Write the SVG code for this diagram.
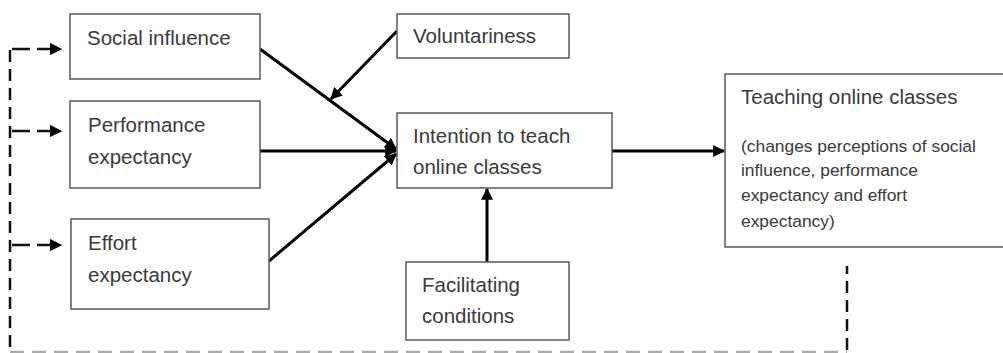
<svg xmlns="http://www.w3.org/2000/svg" width="1003" height="353" viewBox="0 0 1003 353">
<defs>
<marker id="ah" viewBox="0 0 10 10" refX="9" refY="5" markerWidth="4" markerHeight="4" orient="auto" markerUnits="strokeWidth">
<path d="M0,0 L10,5 L0,10 z" fill="#000"/>
</marker>
<marker id="ahd" viewBox="0 0 10 10" refX="9" refY="5" markerWidth="5" markerHeight="5" orient="auto" markerUnits="strokeWidth">
<path d="M0,0 L10,5 L0,10 z" fill="#000"/>
</marker>
<style>
.box{fill:#fff;stroke:#595959;stroke-width:1.5}
.t{font-family:"Liberation Sans",Arial,sans-serif;font-size:20.5px;fill:#3a3a3a}
.s{font-family:"Liberation Sans",Arial,sans-serif;font-size:17.4px;fill:#3a3a3a}
.c{stroke:#000;stroke-width:3;fill:none}
.d{stroke:#111;stroke-width:2.5;fill:none;stroke-dasharray:12 7}
.dh{stroke:#111;stroke-width:2.5;fill:none;stroke-dasharray:18 7}
</style>
</defs>
<g id="connectors">
<line class="c" x1="260" y1="49" x2="396" y2="149" marker-end="url(#ah)"/>
<line class="c" x1="260" y1="151" x2="396" y2="151" marker-end="url(#ah)"/>
<line class="c" x1="269" y1="261" x2="396" y2="154" marker-end="url(#ah)"/>
<line class="c" x1="397" y1="31" x2="331" y2="99" marker-end="url(#ah)"/>
<line class="c" x1="612" y1="151" x2="724" y2="151" marker-end="url(#ah)"/>
<line class="c" x1="487" y1="262" x2="487" y2="189" marker-end="url(#ah)"/>
<path class="d" d="M10,50 V352"/>
<path d="M10,352 H847" stroke="#aaa" stroke-width="2.5" stroke-dasharray="14 8" fill="none"/>
<path class="d" d="M847,350 V266"/>
<line class="dh" x1="12" y1="49" x2="61" y2="49" marker-end="url(#ahd)"/>
<line class="dh" x1="12" y1="131" x2="61" y2="131" marker-end="url(#ahd)"/>
<line class="dh" x1="12" y1="245" x2="61" y2="245" marker-end="url(#ahd)"/>
</g>
<g id="social-influence">
<rect class="box" x="70" y="14" width="190" height="65"/>
<text class="t" x="87" y="45">Social influence</text>
</g>
<g id="performance-expectancy">
<rect class="box" x="70" y="101" width="190" height="87"/>
<text class="t" x="88" y="132">Performance</text>
<text class="t" x="88" y="164">expectancy</text>
</g>
<g id="effort-expectancy">
<rect class="box" x="71" y="219" width="198" height="90"/>
<text class="t" x="88" y="250">Effort</text>
<text class="t" x="88" y="282">expectancy</text>
</g>
<g id="voluntariness">
<rect class="box" x="397" y="14" width="172" height="44"/>
<text class="t" x="413" y="43">Voluntariness</text>
</g>
<g id="intention">
<rect class="box" x="397" y="113" width="215" height="75"/>
<text class="t" x="413" y="143">Intention to teach</text>
<text class="t" x="413" y="174">online classes</text>
</g>
<g id="facilitating-conditions">
<rect class="box" x="406" y="262" width="163" height="78"/>
<text class="t" x="422" y="292">Facilitating</text>
<text class="t" x="422" y="323">conditions</text>
</g>
<g id="teaching-online-classes">
<rect class="box" x="725" y="74" width="282" height="173"/>
<text class="t" x="741" y="104">Teaching online classes</text>
<text class="s" x="741" y="152">(changes perceptions of social</text>
<text class="s" x="741" y="176">influence, performance</text>
<text class="s" x="741" y="201">expectancy and effort</text>
<text class="s" x="741" y="227">expectancy)</text>
</g>
</svg>
